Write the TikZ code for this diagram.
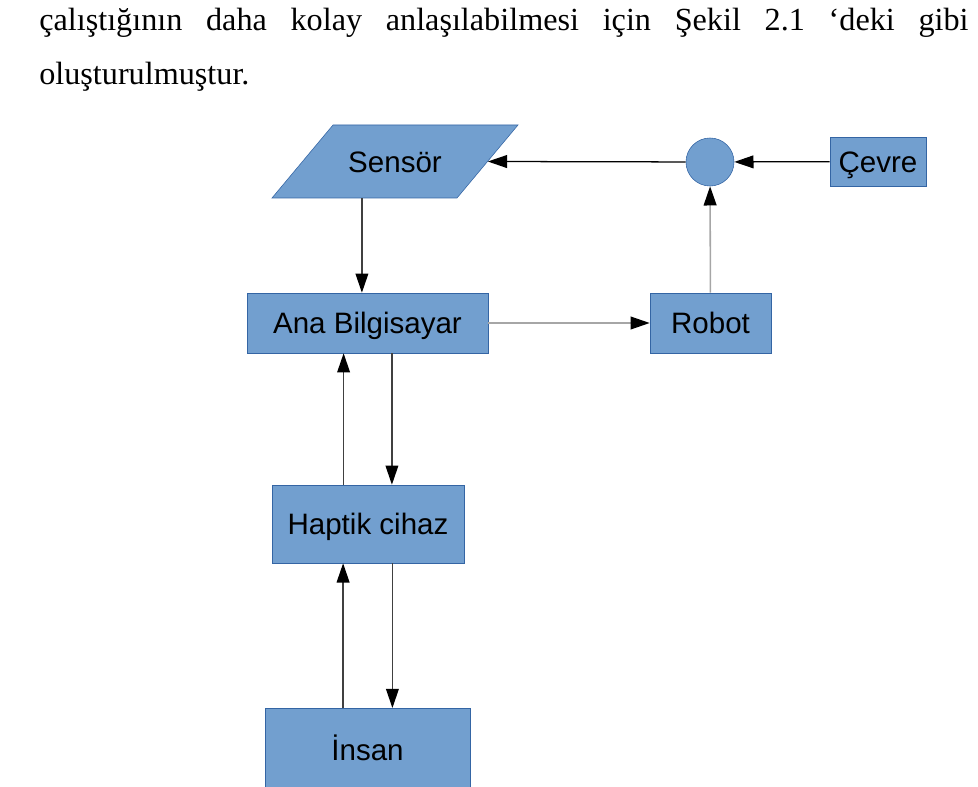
\documentclass[tikz,border=0pt]{standalone}
\usepackage{fontspec}
\setmainfont{Liberation Serif}
\newfontfamily\diagfont{Liberation Sans}
\usetikzlibrary{positioning, arrows.meta, calc, shapes.geometric}

\definecolor{boxblue}{HTML}{729FCF}
\definecolor{boxline}{HTML}{3465A4}

\begin{document}
\begin{tikzpicture}[
    x=0.025cm, y=-0.025cm,
    block/.style={
        rectangle,
        draw=boxline,
        fill=boxblue,
        line width=0.4pt,
        inner sep=0pt,
        align=center,
        text height=15pt,
        text depth=0pt,
        font=\diagfont\fontsize{21}{25}\selectfont
    },
    sensorbox/.style={
        block,
        draw=none,
        fill=none,
        minimum width=4.625cm,
        minimum height=1.825cm
    },
    joint/.style={
        circle,
        draw=boxline,
        fill=boxblue,
        minimum size=1.2cm,
        inner sep=0pt
    },
    arrow/.style={
        -{Triangle[length=0.48cm, width=0.32cm, color=black]},
        line width=0.9pt,
        draw=black!75
    },
    lightarrow/.style={
        arrow,
        line width=1.1pt,
        draw=black!35
    },
    para/.style={
        anchor=base west,
        inner sep=0pt,
        font=\fontsize{22.9}{34}\selectfont
    }
]

% ===== sayfa sinirlari =====
\useasboundingbox (0,0) rectangle (978,787);

% ===== metin =====
\node[para] (line1) at (39,31) {\makebox[23.225cm][s]{çalıştığının daha kolay anlaşılabilmesi için Şekil 2.1 ‘deki gibi}};
\node[para] (line2) at (39,85) {oluşturulmuştur.};

% ===== kutular =====
\filldraw[draw=boxline, fill=boxblue, line width=0.4pt]
    (272,198) -- (457,198) -- (518,125) -- (333,125) -- cycle;
\node[sensorbox] (sensor) at (395,161.5) {Sensör};
\node[joint] (sum) at (710,162) {};
\node[block, minimum width=2.4cm, minimum height=1.225cm] (cevre) at (878,161.5) {Çevre};
\node[block, minimum width=6.025cm, minimum height=1.5cm] (ana) at (367.5,323) {Ana Bilgisayar};
\node[block, minimum width=3.025cm, minimum height=1.5cm] (robot) at (710.5,323) {Robot};
\node[block, minimum width=4.8cm, minimum height=1.95cm] (haptik) at (368,524) {Haptik cihaz};
\node[block, minimum width=5.125cm, minimum height=2.1cm, anchor=north] (insan) at (367.5,708) {İnsan};

% ===== oklar =====
\draw[arrow, draw=black] (cevre) -- (sum);
\draw[arrow, draw=black] (sum) -- (sensor.east);
\draw[arrow] ([xshift=-0.14cm]ana.north |- sensor.south) -- ([xshift=-0.14cm]ana.north);
\draw[lightarrow] (ana) -- (robot);
\draw[lightarrow] (robot) -- (sum);
\draw[arrow] ([xshift=-0.61cm]haptik.north) -- ([xshift=-0.61cm]haptik.north |- ana.south);
\draw[arrow] ([xshift=0.61cm]ana.south) -- ([xshift=0.61cm]ana.south |- haptik.north);
\draw[arrow] ([xshift=-0.61cm]insan.north) -- ([xshift=-0.61cm]insan.north |- haptik.south);
\draw[arrow] ([xshift=0.61cm]haptik.south) -- ([xshift=0.61cm]haptik.south |- insan.north);

\end{tikzpicture}
\end{document}
